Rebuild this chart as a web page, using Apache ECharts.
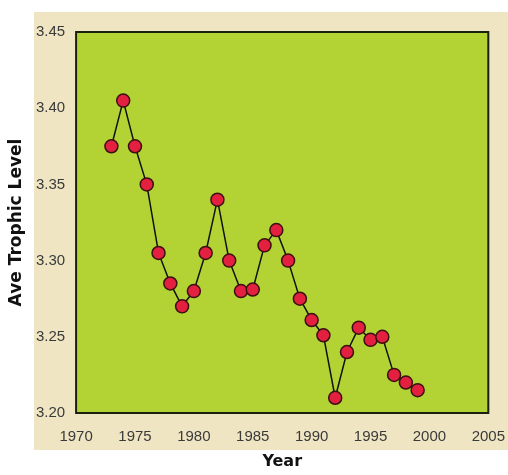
<!DOCTYPE html>
<html>
<head>
<meta charset="utf-8">
<script src="https://cdn.jsdelivr.net/npm/echarts@6/dist/echarts.min.js"></script>
<style>
html,body{margin:0;padding:0;background:#fff;}
#c{width:508px;height:475px;}
</style>
</head>
<body>
<div id="c"></div>
<script>
const years = [1973,1974,1975,1976,1977,1978,1979,1980,1981,1982,1983,1984,1985,1986,1987,1988,1989,1990,1991,1992,1993,1994,1995,1996,1997,1998,1999];
const trophic = [3.375,3.405,3.375,3.350,3.305,3.285,3.270,3.280,3.305,3.340,3.300,3.280,3.281,3.310,3.320,3.300,3.275,3.261,3.251,3.210,3.240,3.256,3.248,3.250,3.225,3.220,3.215];
const xTicks = [1970,1975,1980,1985,1990,1995,2000,2005];
const yTicks = [3.20,3.25,3.30,3.35,3.40,3.45];

const chart = echarts.init(document.getElementById('c'), null, {renderer:'canvas'});
chart.setOption({
  animation:false,
  backgroundColor:'#ffffff',
  graphic:[{type:'rect', z:-100, shape:{x:34,y:12,width:474,height:438}, style:{fill:'#efe5c3'}}],
  grid:{left:75,right:16,top:32,bottom:57,show:true,backgroundColor:'#b3d335',borderColor:'#1a200e',borderWidth:2},
  xAxis:{
    type:'value', min:xTicks[0], max:xTicks[xTicks.length-1], interval:5,
    name:'Year', nameLocation:'middle', nameGap:41,
    nameTextStyle:{fontFamily:'DejaVu Sans',fontWeight:'bold',fontSize:16,color:'#111'},
    axisLine:{show:false}, axisTick:{show:false}, splitLine:{show:false},
    axisLabel:{margin:16,fontFamily:'Liberation Sans',fontSize:15,color:'#3a3a3a',formatter:v=>String(v)}
  },
  yAxis:{
    type:'value', min:yTicks[0], max:yTicks[yTicks.length-1], interval:0.05,
    name:'Ave Trophic Level', nameLocation:'middle', nameGap:45,
    nameTextStyle:{fontFamily:'DejaVu Sans',fontWeight:'bold',fontSize:17,color:'#111'},
    axisLine:{show:false}, axisTick:{show:false}, splitLine:{show:false},
    axisLabel:{margin:11,fontFamily:'Liberation Sans',fontSize:15,color:'#3a3a3a',formatter:v=>v.toFixed(2)}
  },
  series:[{
    type:'line',
    data:years.map((y,i)=>[y,trophic[i]]),
    symbol:'circle', symbolSize:13,
    lineStyle:{color:'#111',width:1.5},
    itemStyle:{color:'#e3203f',borderColor:'#3a1010',borderWidth:1.5},
    z:5
  }]
});
</script>
</body>
</html>
